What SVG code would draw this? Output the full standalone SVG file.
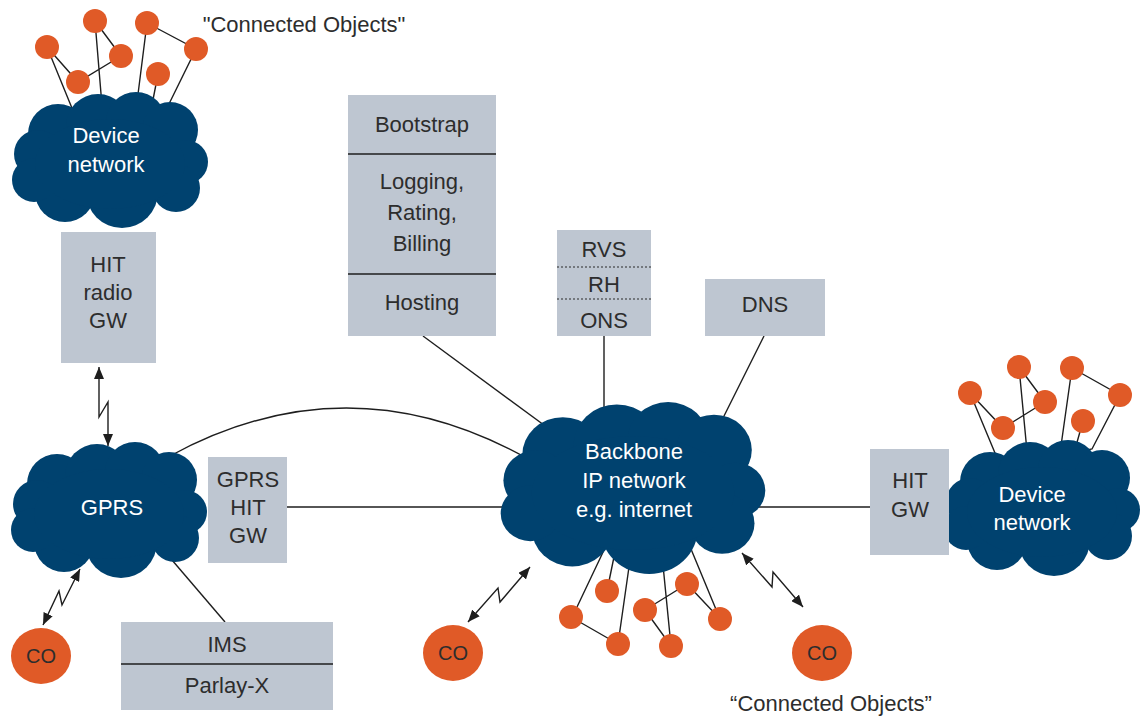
<svg xmlns="http://www.w3.org/2000/svg" width="1145" height="717" viewBox="0 0 1145 717">
  <style>
    .ln { fill: none; stroke: #1e1e1e; stroke-width: 1.4; }
    .arw { fill: none; stroke: #1e1e1e; stroke-width: 1.4; marker-start: url(#ah); marker-end: url(#ah); }
    .box { fill: #bec6d1; }
    .div { stroke: #1e1e1e; stroke-width: 1.4; }
    .dot-div { stroke: #2a2a2a; stroke-width: 1.2; stroke-dasharray: 2 2; }
    .cloud { fill: #00426f; }
    .obj { fill: #e05a27; }
    text { font-family: "Liberation Sans", Arial, sans-serif; font-size: 22px; text-anchor: middle; fill: #2d2d2d; }
    .wt { fill: #ffffff; }
    .co { font-size: 20px; }
  </style>
  <defs>
    <marker id="ah" viewBox="0 0 12 10" refX="12" refY="5" markerWidth="12" markerHeight="10" markerUnits="userSpaceOnUse" orient="auto-start-reverse">
      <path d="M0,0 L12,5 L0,10 z" fill="#1e1e1e"/>
    </marker>
    <!-- generic cloud outline, 198 x 136 local units -->
    <g id="cloudShape" class="cloud">
      <circle cx="48" cy="42" r="30"/>
      <circle cx="88" cy="34" r="32"/>
      <circle cx="126" cy="30" r="30"/>
      <circle cx="160" cy="38" r="28"/>
      <circle cx="176" cy="70" r="22"/>
      <circle cx="166" cy="96" r="24"/>
      <circle cx="112" cy="100" r="36"/>
      <circle cx="55" cy="100" r="30"/>
      <circle cx="28" cy="62" r="24"/>
      <circle cx="24" cy="88" r="22"/>
      <ellipse cx="100" cy="72" rx="75" ry="45"/>
    </g>
  </defs>

  <rect width="1145" height="717" fill="#ffffff"/>

  <!-- connectors -->
  <g id="connectors">
    <path class="ln" d="M423,336 L548,428"/>
    <path class="ln" d="M604,336 V420"/>
    <path class="ln" d="M764,336 L722,420"/>
    <path class="ln" d="M170,456 Q350,358 530,460"/>
    <path class="ln" d="M287,507 H520"/>
    <path class="ln" d="M740,507 H870"/>
    <path class="ln" d="M160,546 L225,622"/>
    <!-- radio links -->
    <path class="arw" d="M99,367 L99,417 L108,402 L108,446"/>
    <path class="arw" d="M80,569 L62,605 L59,591 L43,625"/>
    <path class="arw" d="M530,567 L500,602 L498,588 L468,622"/>
    <path class="arw" d="M742,553 L772,587 L773,572 L803,607"/>
    <!-- object meshes -->
    <path class="ln" d="M47,47 L76,118 M47,47 L78,82 L121,56 M95,21 L121,56 M95,21 L103,118 M147,23 L135,118 M147,23 L196,49 L166,110 M158,74 L151,110"/>
    <path class="ln" d="M577,607 L605,548 M607,591 L615,552 M618,644 L630,560 M571,617 L618,644 M645,610 L687,584 M645,610 L671,646 L662,555 M687,584 L720,619 L686,537"/>
    <path class="ln" d="M970,393 L1000,465 M970,393 L1003,428 L1045,402 M1019,367 L1045,402 M1019,367 L1028,462 M1072,368 L1059,460 M1072,368 L1120,395 L1092,449 L1074,453 L1083,421"/>
  </g>

  <!-- clouds -->
  <g id="device-network-top">
    <use href="#cloudShape" transform="translate(10,92)"/>
    <text class="wt" x="106" y="143">Device</text>
    <text class="wt" x="106" y="172">network</text>
  </g>
  <g id="gprs">
    <use href="#cloudShape" transform="translate(9,442)"/>
    <text class="wt" x="112" y="515">GPRS</text>
  </g>
  <g id="backbone">
    <use href="#cloudShape" transform="translate(498,402) scale(1.35,1.265)"/>
    <text class="wt" x="634" y="459">Backbone</text>
    <text class="wt" x="634" y="488">IP network</text>
    <text class="wt" x="634" y="517">e.g. internet</text>
  </g>
  <g id="device-network-right">
    <use href="#cloudShape" transform="translate(942,440)"/>
    <text class="wt" x="1032" y="502">Device</text>
    <text class="wt" x="1032" y="530">network</text>
  </g>

  <!-- service boxes -->
  <g id="hit-radio-gw">
    <rect class="box" x="61" y="232" width="95" height="131"/>
    <text x="108" y="272">HIT</text>
    <text x="108" y="300">radio</text>
    <text x="108" y="328">GW</text>
  </g>
  <g id="platform-services">
    <rect class="box" x="348" y="95" width="148" height="241"/>
    <line class="div" x1="348" y1="154" x2="496" y2="154"/>
    <line class="div" x1="348" y1="274" x2="496" y2="274"/>
    <text x="422" y="132">Bootstrap</text>
    <text x="422" y="189">Logging,</text>
    <text x="422" y="220">Rating,</text>
    <text x="422" y="251">Billing</text>
    <text x="422" y="310">Hosting</text>
  </g>
  <g id="rvs-rh-ons">
    <rect class="box" x="557" y="230" width="94" height="106"/>
    <line class="dot-div" x1="557" y1="267" x2="651" y2="267"/>
    <line class="dot-div" x1="557" y1="299" x2="651" y2="299"/>
    <text x="604" y="257">RVS</text>
    <text x="604" y="292">RH</text>
    <text x="604" y="328">ONS</text>
  </g>
  <g id="dns">
    <rect class="box" x="705" y="279" width="120" height="57"/>
    <text x="765" y="312">DNS</text>
  </g>
  <g id="gprs-hit-gw">
    <rect class="box" x="208" y="457" width="79" height="106"/>
    <text x="248" y="487">GPRS</text>
    <text x="248" y="515">HIT</text>
    <text x="248" y="543">GW</text>
  </g>
  <g id="ims-parlay">
    <rect class="box" x="121" y="622" width="212" height="88"/>
    <line class="div" x1="121" y1="664" x2="333" y2="664"/>
    <text x="227" y="652">IMS</text>
    <text x="227" y="693">Parlay-X</text>
  </g>
  <g id="hit-gw">
    <rect class="box" x="870" y="449" width="79" height="106"/>
    <text x="910" y="488">HIT</text>
    <text x="910" y="517">GW</text>
  </g>

  <!-- connected objects -->
  <g id="objects-top" class="obj">
    <circle cx="47" cy="47" r="12"/>
    <circle cx="95" cy="21" r="12"/>
    <circle cx="78" cy="82" r="12"/>
    <circle cx="121" cy="56" r="12"/>
    <circle cx="147" cy="23" r="12"/>
    <circle cx="196" cy="49" r="12"/>
    <circle cx="158" cy="74" r="12"/>
  </g>
  <g id="objects-bottom" class="obj">
    <circle cx="607" cy="591" r="12"/>
    <circle cx="571" cy="617" r="12"/>
    <circle cx="618" cy="644" r="12"/>
    <circle cx="645" cy="610" r="12"/>
    <circle cx="687" cy="584" r="12"/>
    <circle cx="671" cy="646" r="12"/>
    <circle cx="720" cy="619" r="12"/>
  </g>
  <g id="objects-right" class="obj">
    <circle cx="970" cy="393" r="12"/>
    <circle cx="1019" cy="367" r="12"/>
    <circle cx="1045" cy="402" r="12"/>
    <circle cx="1003" cy="428" r="12"/>
    <circle cx="1072" cy="368" r="12"/>
    <circle cx="1120" cy="395" r="12"/>
    <circle cx="1083" cy="421" r="12"/>
  </g>
  <g id="co-left">
    <ellipse class="obj" cx="41" cy="656" rx="30" ry="28"/>
    <text class="co" x="41" y="663">CO</text>
  </g>
  <g id="co-middle">
    <ellipse class="obj" cx="453" cy="653" rx="30" ry="28"/>
    <text class="co" x="453" y="660">CO</text>
  </g>
  <g id="co-right">
    <ellipse class="obj" cx="822" cy="653" rx="30" ry="28"/>
    <text class="co" x="822" y="660">CO</text>
  </g>

  <!-- captions -->
  <text x="304" y="32">"Connected Objects"</text>
  <text x="831" y="711">“Connected Objects”</text>
</svg>
